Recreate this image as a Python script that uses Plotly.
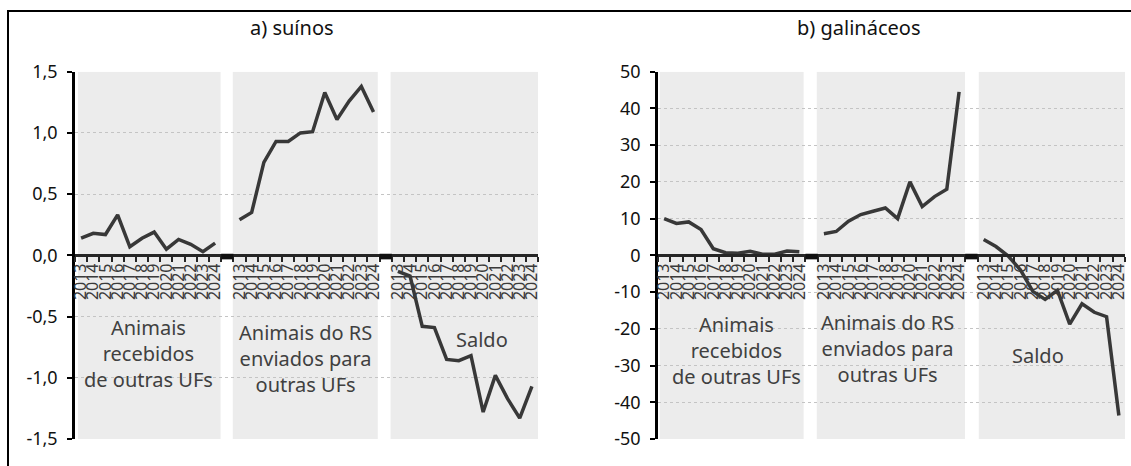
import plotly.graph_objects as go

# ---------------- data ----------------
years = ["2013", "2014", "2015", "2016", "2017", "2018",
         "2019", "2020", "2021", "2022", "2023", "2024"]
group_labels = ["Animais<br>recebidos<br>de outras UFs",
                "Animais do RS<br>enviados para<br>outras UFs",
                "Saldo"]
panel_titles = ["a) suínos", "b) galináceos"]

suinos_recebidos = [0.14, 0.18, 0.17, 0.33, 0.07, 0.14, 0.19, 0.05, 0.13, 0.09, 0.03, 0.10]
suinos_enviados = [0.29, 0.35, 0.76, 0.93, 0.93, 1.00, 1.01, 1.33, 1.11, 1.26, 1.38, 1.17]
suinos_saldo = [-0.13, -0.17, -0.58, -0.59, -0.85, -0.86, -0.82, -1.28, -0.98, -1.17, -1.33, -1.07]

gal_recebidos = [10.0, 8.7, 9.1, 7.0, 1.8, 0.7, 0.6, 1.1, 0.3, 0.3, 1.2, 1.0]
gal_enviados = [5.9, 6.5, 9.3, 11.1, 12.0, 12.9, 10.0, 20.0, 13.3, 16.0, 18.0, 44.5]
gal_saldo = [4.3, 2.4, -0.2, -4.0, -9.8, -12.0, -9.5, -18.7, -13.2, -15.5, -16.7, -43.6]

suinos_ticks = [-1.5, -1.0, -0.5, 0.0, 0.5, 1.0, 1.5]
suinos_ticktext = ["-1,5", "-1,0", "-0,5", "0,0", "0,5", "1,0", "1,5"]
gal_ticks = [-50, -40, -30, -20, -10, 0, 10, 20, 30, 40, 50]
gal_ticktext = ["-50", "-40", "-30", "-20", "-10", "0", "10", "20", "30", "40", "50"]

# ---------------- layout constants ----------------
W, H = 1131, 466
FONT = "Noto Sans"
LINE_COLOR = "#383838"
BAND_COLOR = "#ececec"
n = len(years)
step = n + 1  # one blank category between groups


def xpos(g):
    return [g * step + i for i in range(n)]


tickvals = [v for g in range(3) for v in xpos(g)]
ticktext = years * 3
boundaries = [i + 0.5 for i in range(-1, 3 * step - 1)]

yd = [(H - 439) / H, (H - 71.7) / H]
ymid = (yd[0] + yd[1]) / 2

fig = go.Figure()

panels = [
    dict(xa="x", ya="y", series=[suinos_recebidos, suinos_enviados, suinos_saldo],
         rng=[-1.5, 1.5], ticks=suinos_ticks, ticktext=suinos_ticktext,
         dom=[75 / W, 538 / W], title_x=292 / W,
         bands=[(-0.25, 11.45), (12.45, 24.35), (25.4, 37.9)],
         ann=[(5.5, -0.80), (18.45, -0.84), (32.9, -0.69)]),
    dict(xa="x2", ya="y2", series=[gal_recebidos, gal_enviados, gal_saldo],
         rng=[-50, 50], ticks=gal_ticks, ticktext=gal_ticktext,
         dom=[658 / W, 1125 / W], title_x=858 / W,
         bands=[(-0.35, 11.35), (12.42, 24.48), (25.6, 37.5)],
         ann=[(5.9, -25.9), (18.2, -25.4), (30.4, -27.3)]),
]

shapes = []
annotations = []
for k, p in enumerate(panels):
    for g, vals in enumerate(p["series"]):
        fig.add_trace(go.Scatter(
            x=xpos(g), y=vals, mode="lines",
            line=dict(color=LINE_COLOR, width=3.5),
            xaxis=p["xa"], yaxis=p["ya"], showlegend=False, hoverinfo="skip"))
    for (b0, b1) in p["bands"]:
        shapes.append(dict(type="rect", xref=p["xa"], yref=p["ya"], layer="below",
                           x0=b0, x1=b1, y0=p["rng"][0], y1=p["rng"][1],
                           fillcolor=BAND_COLOR, line=dict(width=0)))
    # darker separators on the axis at the blank categories
    for g in range(1, 3):
        c = g * step - 1
        shapes.append(dict(type="rect", xref=p["xa"], yref=p["ya"], layer="above",
                           x0=c - 0.5, x1=c + 0.5, ysizemode="pixel", yanchor=0,
                           y0=1.5, y1=-4, fillcolor="#111111", line=dict(width=0)))
    for g, (ax_, ay_) in enumerate(p["ann"]):
        annotations.append(dict(xref=p["xa"], yref=p["ya"], x=ax_, y=ay_,
                                text=group_labels[g], showarrow=False,
                                font=dict(family=FONT, size=20, color="#404040"),
                                align="center", xanchor="center", yanchor="middle"))
    annotations.append(dict(xref="paper", yref="paper", x=p["title_x"], y=(H - 28) / H,
                            text=panel_titles[k], showarrow=False,
                            font=dict(family=FONT, size=20, color="#111111"),
                            xanchor="center", yanchor="middle"))

    xkey = "xaxis" if k == 0 else "xaxis2"
    ykey = "yaxis" if k == 0 else "yaxis2"
    fig.update_layout(**{
        xkey: dict(domain=p["dom"], range=[-0.5, 3 * step - 1.5], anchor="free",
                   position=ymid, showline=True, linecolor="#262626", linewidth=2.5,
                   tickmode="array", tickvals=tickvals, ticktext=ticktext,
                   tickangle=-90, ticks="", showgrid=False, zeroline=False,
                   tickfont=dict(family=FONT, size=16, color="#3a3a3a"),
                   minor=dict(tickmode="array", tickvals=boundaries, ticks="outside",
                              ticklen=5, tickwidth=2, tickcolor="#262626", showgrid=False),
                   automargin=False, fixedrange=True),
        ykey: dict(domain=yd, range=p["rng"], anchor=p["xa"],
                   tickmode="array", tickvals=p["ticks"], ticktext=p["ticktext"],
                   ticks="outside", ticklen=5, tickwidth=2, tickcolor="black",
                   showline=True, linecolor="black", linewidth=2.5,
                   showgrid=True, gridcolor="#c4c4c4", gridwidth=1, griddash="dot",
                   zeroline=False, ticklabelstandoff=6,
                   tickfont=dict(family=FONT, size=18, color="#111111"),
                   automargin=False, fixedrange=True),
    })

# outer frame (cropped at right and bottom)
shapes.append(dict(type="rect", xref="paper", yref="paper", layer="above",
                   x0=8 / W, x1=1.05, y0=-0.05, y1=(H - 11) / H,
                   line=dict(color="black", width=2), fillcolor="rgba(0,0,0,0)"))

fig.update_layout(
    template="none",
    width=W, height=H, autosize=False,
    margin=dict(l=0, r=0, t=0, b=0),
    paper_bgcolor="white", plot_bgcolor="white",
    shapes=shapes, annotations=annotations,
    showlegend=False,
    font=dict(family=FONT),
)

fig.write_html("out.html", config={"displayModeBar": False},
               post_script="document.body.style.margin='0';document.body.style.overflow='hidden';")
